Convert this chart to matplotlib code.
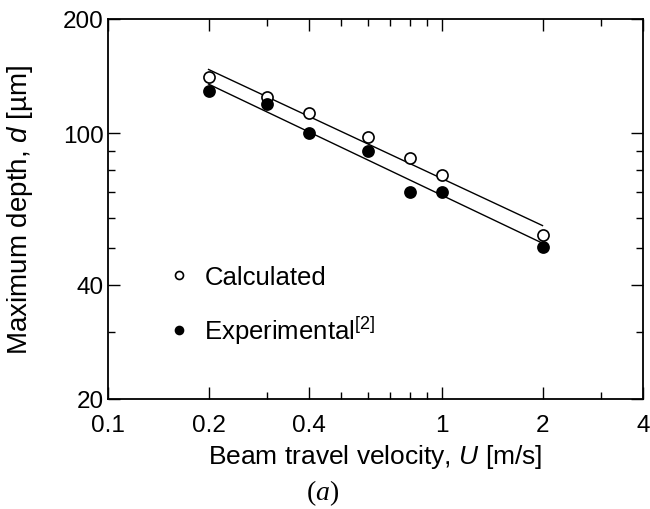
import matplotlib
matplotlib.use("Agg")
import matplotlib.pyplot as plt
from matplotlib.ticker import FixedLocator, NullFormatter, FixedFormatter

plt.rcParams['font.family'] = ['Liberation Sans', 'DejaVu Sans']
plt.rcParams['mathtext.fontset'] = 'custom'
plt.rcParams['mathtext.rm'] = 'Liberation Sans'
plt.rcParams['mathtext.it'] = 'Liberation Sans:italic'
plt.rcParams['mathtext.bf'] = 'Liberation Serif:italic'

# Data
velocity = [0.2, 0.3, 0.4, 0.6, 0.8, 1.0, 2.0]
depth_calc = [140.8, 124.8, 112.9, 97.6, 86.3, 77.7, 54.1]
depth_exp = [129.4, 119.4, 100.0, 90.1, 70.3, 70.3, 50.2]
fit_x = [0.2, 2.0]
fit_calc = [147.3, 57.2]
fit_exp = [134.8, 51.4]

x_major = [0.1, 0.2, 0.4, 1, 2, 4]
x_major_labels = ['0.1', '0.2', '0.4', '1', '2', '4']
x_minor = [0.3, 0.5, 0.6, 0.7, 0.8, 0.9, 3]
y_major = [20, 40, 100, 200]
y_major_labels = ['20', '40', '100', '200']
y_minor = [30, 50, 60, 70, 80, 90]

fig = plt.figure(figsize=(6.5, 5.1), dpi=100)
ax = fig.add_axes([0.1662, 0.2157, 0.8231, 0.7451])

ax.plot(fit_x, fit_calc, color='black', lw=1.0)
ax.plot(fit_x, fit_exp, color='black', lw=1.0)
ax.plot(velocity, depth_calc, 'o', ms=8, mfc='white', mec='black', mew=1.2,
        label='Calculated', zorder=3)
ax.plot(velocity, depth_exp, 'o', ms=8, mfc='black', mec='black', mew=1.2,
        label='Experimental$^{[2]}$', zorder=3)

ax.set_xscale('log')
ax.set_yscale('log')
ax.set_xlim(0.1, 4)
ax.set_ylim(20, 200)

ax.xaxis.set_major_locator(FixedLocator(x_major))
ax.xaxis.set_major_formatter(FixedFormatter(x_major_labels))
ax.xaxis.set_minor_locator(FixedLocator(x_minor))
ax.xaxis.set_minor_formatter(NullFormatter())
ax.yaxis.set_major_locator(FixedLocator(y_major))
ax.yaxis.set_major_formatter(FixedFormatter(y_major_labels))
ax.yaxis.set_minor_locator(FixedLocator(y_minor))
ax.yaxis.set_minor_formatter(NullFormatter())

ax.tick_params(which='both', direction='in', top=True, right=True,
               labelsize=17.5, width=1.0)
ax.tick_params(axis='x', which='both', pad=11)
ax.tick_params(axis='y', which='both', pad=3)
ax.tick_params(which='major', length=8.5)
ax.tick_params(which='minor', length=5)
for s in ax.spines.values():
    s.set_linewidth(1.3)

ax.set_xlabel('Beam travel velocity, $U$ [m/s]', fontsize=19, labelpad=4)
ax.set_ylabel('Maximum depth, $d$ [\u00b5m]', fontsize=20, labelpad=20)

leg = ax.legend(loc='center left', bbox_to_anchor=(0.089, 0.246), frameon=False,
                fontsize=18.5, markerscale=0.72, handlelength=0.8,
                handletextpad=0.6, labelspacing=1.0, borderpad=0)

fig.text(0.496, 0.033, '($\\mathbf{a}$)', family='Liberation Serif',
         fontsize=20, ha='center', va='center')

fig.savefig('out.png', dpi=100)
